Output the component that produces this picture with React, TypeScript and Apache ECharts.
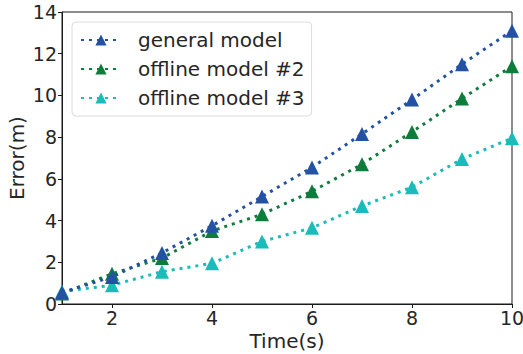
import React, { useEffect, useRef } from "react";
import * as echarts from "echarts";

const times = [1, 2, 3, 4, 5, 6, 7, 8, 9, 10];
const generalModel = [0.55, 1.3, 2.45, 3.75, 5.15, 6.55, 8.15, 9.8, 11.5, 13.1];
const offlineModel2 = [0.5, 1.45, 2.2, 3.5, 4.3, 5.4, 6.7, 8.25, 9.85, 11.4];
const offlineModel3 = [0.6, 0.9, 1.55, 1.95, 3.0, 3.65, 4.7, 5.6, 6.95, 7.95];
const xTickLabels = [2, 4, 6, 8, 10];
const seriesNames = ["general model", "offline model #2", "offline model #3"];
const seriesColors = ["#2352a5", "#0e7d3c", "#19bcb8"];

const FONT = "DejaVu Sans";

export default function App() {
  const ref = useRef<HTMLDivElement>(null);
  useEffect(() => {
    if (!ref.current) return;
    const chart = echarts.init(ref.current, undefined, { renderer: "svg" });
    const datasets = [generalModel, offlineModel2, offlineModel3];
    chart.setOption({
      animation: false,
      textStyle: { fontFamily: FONT },
      grid: {
        left: 62,
        right: 11,
        top: 12,
        bottom: 50,
        containLabel: false,
        outerBoundsMode: "none",
        show: true,
        borderColor: "#1a1a1a",
        borderWidth: 1,
        backgroundColor: "transparent",
      },
      legend: {
        show: true,
        left: 72,
        top: 22,
        orient: "vertical",
        itemWidth: 40,
        itemHeight: 14,
        itemGap: 9,
        padding: [8, 7, 8, 8],
        borderColor: "#dcdcdc",
        borderWidth: 1,
        borderRadius: 4,
        backgroundColor: "rgba(255,255,255,0.8)",
        textStyle: { fontFamily: FONT, fontSize: 20, color: "#262626", padding: [0, 0, 0, 12] },
        data: seriesNames,
      },
      xAxis: {
        type: "value",
        min: 1,
        max: 10,
        name: "Time(s)",
        nameLocation: "middle",
        nameGap: 27,
        nameMoveOverlap: false,
        nameTextStyle: { fontFamily: FONT, fontSize: 20, color: "#262626", verticalAlign: "top" },
        axisLine: { show: true, lineStyle: { color: "#1a1a1a", width: 1 } },
        axisTick: { show: true, inside: false, length: 4, customValues: xTickLabels, lineStyle: { color: "#1a1a1a" } },
        axisLabel: { customValues: xTickLabels, fontFamily: FONT, fontSize: 19, color: "#262626", margin: 4 },
        splitLine: { show: false },
      },
      yAxis: {
        type: "value",
        min: 0,
        max: 14,
        interval: 2,
        name: "Error(m)",
        nameLocation: "middle",
        nameGap: 35,
        nameMoveOverlap: false,
        nameTextStyle: { fontFamily: FONT, fontSize: 20, color: "#262626" },
        axisLine: { show: true, lineStyle: { color: "#1a1a1a", width: 1 } },
        axisTick: { show: true, inside: false, length: 4, lineStyle: { color: "#1a1a1a" } },
        axisLabel: { fontFamily: FONT, fontSize: 19, color: "#262626", margin: 5 },
        splitLine: { show: false },
      },
      series: datasets.map((vals, i) => ({
        name: seriesNames[i],
        type: "line",
        data: times.map((t, j) => [t, vals[j]]),
        symbol: "triangle",
        symbolSize: 14,
        itemStyle: { color: seriesColors[i] },
        lineStyle: { color: seriesColors[i], width: 3, type: [3, 5], cap: "butt" },
        z: 3 - i,
      })),
    });
    return () => chart.dispose();
  }, []);
  return <div ref={ref} style={{ width: 523, height: 354, position: "absolute", left: 0, top: 0 }} />;
}
